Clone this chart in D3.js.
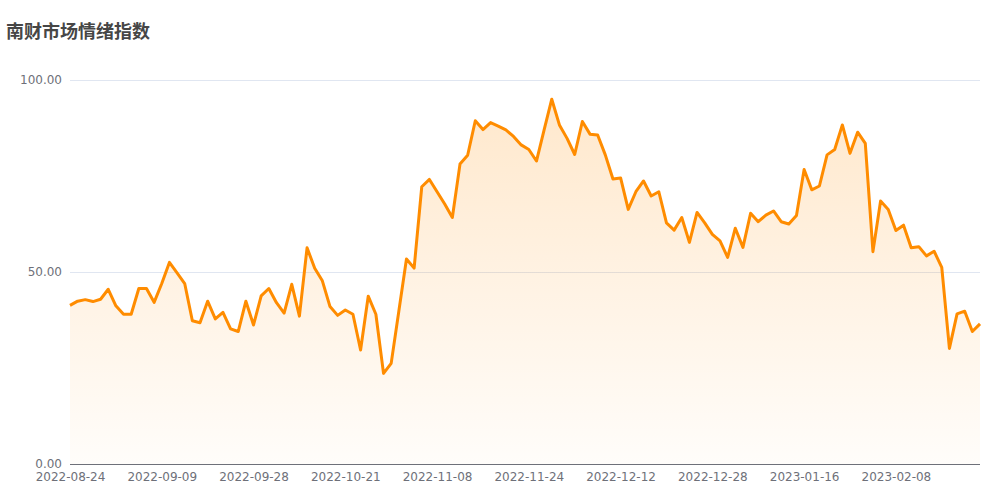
<!DOCTYPE html>
<html><head><meta charset="utf-8">
<script src="https://cdn.jsdelivr.net/npm/d3@7/dist/d3.min.js"></script>
<style>html,body{margin:0;padding:0;background:#fff;}svg{display:block;}</style>
</head><body>
<svg id="chart" width="1000" height="500"></svg>
<script>
const title = "南财市场情绪指数";
const dates = [
"2022-08-24","2022-08-25","2022-08-26","2022-08-29","2022-08-30","2022-08-31","2022-09-01","2022-09-02","2022-09-05","2022-09-06",
"2022-09-07","2022-09-08","2022-09-09","2022-09-13","2022-09-14","2022-09-15","2022-09-16","2022-09-19","2022-09-20","2022-09-21",
"2022-09-22","2022-09-23","2022-09-26","2022-09-27","2022-09-28","2022-09-29","2022-09-30","2022-10-10","2022-10-11","2022-10-12",
"2022-10-13","2022-10-14","2022-10-17","2022-10-18","2022-10-19","2022-10-20","2022-10-21","2022-10-24","2022-10-25","2022-10-26",
"2022-10-27","2022-10-28","2022-10-31","2022-11-01","2022-11-02","2022-11-03","2022-11-04","2022-11-07","2022-11-08","2022-11-09",
"2022-11-10","2022-11-11","2022-11-14","2022-11-15","2022-11-16","2022-11-17","2022-11-18","2022-11-21","2022-11-22","2022-11-23",
"2022-11-24","2022-11-25","2022-11-28","2022-11-29","2022-11-30","2022-12-01","2022-12-02","2022-12-05","2022-12-06","2022-12-07",
"2022-12-08","2022-12-09","2022-12-12","2022-12-13","2022-12-14","2022-12-15","2022-12-16","2022-12-19","2022-12-20","2022-12-21",
"2022-12-22","2022-12-23","2022-12-26","2022-12-27","2022-12-28","2022-12-29","2022-12-30","2023-01-03","2023-01-04","2023-01-05",
"2023-01-06","2023-01-09","2023-01-10","2023-01-11","2023-01-12","2023-01-13","2023-01-16","2023-01-17","2023-01-18","2023-01-19",
"2023-01-20","2023-01-30","2023-01-31","2023-02-01","2023-02-02","2023-02-03","2023-02-06","2023-02-07","2023-02-08","2023-02-09",
"2023-02-10","2023-02-13","2023-02-14","2023-02-15","2023-02-16","2023-02-17","2023-02-20","2023-02-21","2023-02-22","2023-02-23"
];
const values = [
41.3,42.4,42.8,42.3,42.9,45.5,41.2,39.0,39.0,45.7,
45.7,42.1,47.0,52.5,49.8,47.0,37.3,36.8,42.4,37.8,
39.5,35.2,34.5,42.4,36.2,43.8,45.7,42.0,39.3,46.8,
38.5,56.3,51.0,47.7,41.0,38.7,40.1,39.0,29.7,43.7,
39.0,23.6,26.2,39.8,53.4,51.0,72.2,74.1,70.9,67.7,
64.2,78.1,80.4,89.4,87.1,88.9,88.0,87.0,85.3,83.1,
81.9,78.9,87.0,95.0,88.3,84.8,80.6,89.2,85.9,85.7,
80.5,74.2,74.5,66.3,70.9,73.7,69.8,70.9,62.8,60.9,
64.2,57.7,65.5,62.8,59.8,58.1,53.8,61.4,56.4,65.3,
63.1,64.8,65.9,63.1,62.5,64.7,76.7,71.4,72.4,80.5,
81.9,88.3,80.9,86.4,83.5,55.3,68.5,66.3,60.8,62.2,
56.3,56.6,54.2,55.4,51.2,30.1,39.1,39.8,34.5,36.5
];
const yTicks = [0, 50, 100];
const labelEvery = 12;

const svg = d3.select("#chart");
const mLeft = 70, mRight = 980, mTop = 80, mBottom = 464;

const x = d3.scalePoint().domain(dates).range([mLeft, mRight]);
const y = d3.scaleLinear().domain([0, 100]).range([mBottom, mTop]);

svg.append("text").attr("x", 6).attr("y", 38)
  .attr("font-family", "'Noto Sans CJK SC', sans-serif").attr("font-weight", "bold")
  .attr("font-size", 18).attr("fill", "#464646").text(title);

// grid + y labels
const yAxis = d3.axisLeft(y).tickValues(yTicks).tickSize(-(mRight - mLeft)).tickPadding(8)
  .tickFormat(d3.format(".2f"));
const gy = svg.append("g").attr("transform", `translate(${mLeft},0)`).call(yAxis);
gy.select(".domain").remove();
gy.selectAll(".tick line").attr("stroke", "#E0E6F1");
gy.selectAll(".tick text").attr("fill", "#6E7079").attr("font-size", 12)
  .attr("font-family", "'DejaVu Sans', sans-serif");

// gradient
const defs = svg.append("defs");
const grad = defs.append("linearGradient").attr("id", "areaGrad")
  .attr("gradientUnits", "userSpaceOnUse")
  .attr("x1", 0).attr("x2", 0).attr("y1", y(d3.max(values))).attr("y2", mBottom);
grad.append("stop").attr("offset", "0%").attr("stop-color", "#FF8C00").attr("stop-opacity", 0.2);
grad.append("stop").attr("offset", "100%").attr("stop-color", "#FF8C00").attr("stop-opacity", 0.02);

const data = dates.map((d, i) => ({ d, v: values[i] }));
svg.append("path").datum(data)
  .attr("d", d3.area().x(p => x(p.d)).y0(mBottom).y1(p => y(p.v)))
  .attr("fill", "url(#areaGrad)");

// x axis
const xAxis = d3.axisBottom(x).tickValues(dates.filter((d, i) => i % labelEvery === 0))
  .tickSize(0).tickPadding(8);
const gx = svg.append("g").attr("transform", `translate(0,${mBottom})`).call(xAxis);
gx.select(".domain").attr("stroke", "#6E7079").attr("d", `M${mLeft},0.5H${mRight}`);
gx.selectAll(".tick text").attr("fill", "#6E7079").attr("font-size", 12)
  .attr("font-family", "'DejaVu Sans', sans-serif");

svg.append("path").datum(data)
  .attr("d", d3.line().x(p => x(p.d)).y(p => y(p.v)))
  .attr("fill", "none").attr("stroke", "#FF8C00").attr("stroke-width", 3)
  .attr("stroke-linejoin", "round");
</script>
</body></html>
